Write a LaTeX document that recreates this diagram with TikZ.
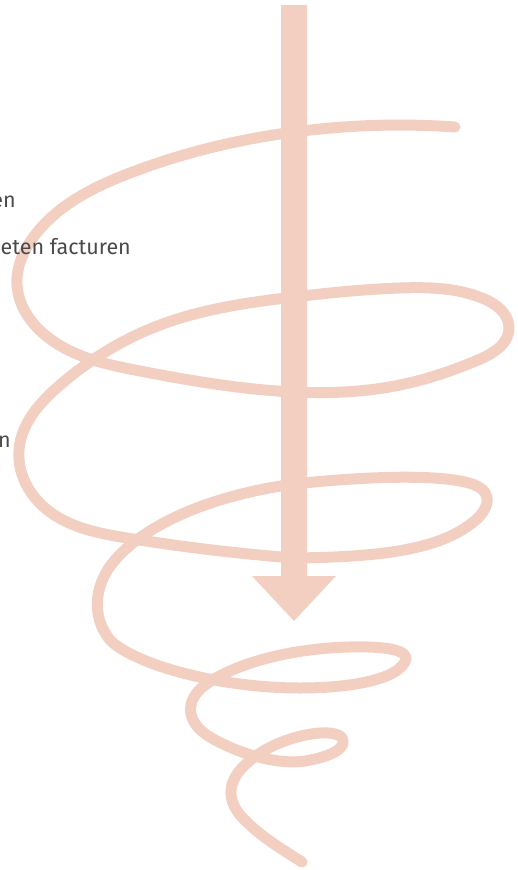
\documentclass[tikz,border=0pt]{standalone}
\usepackage{fontspec}
\setmainfont{Fira Sans}
\usetikzlibrary{hobby}
\definecolor{peach}{HTML}{F3CFC2}
\definecolor{txt}{HTML}{4A4A4A}
\begin{document}
\begin{tikzpicture}[x=1pt,y=-1pt,
  coil/.style={draw=peach,line width=11pt,line cap=round,line join=round},
  lbl/.style={text=txt,font=\fontsize{21.5}{24}\selectfont,anchor=base east,inner sep=0pt}]
\useasboundingbox (0,0) rectangle (517,870);
\draw[coil,use Hobby shortcut] (455,127) .. (294,132) .. (130,173) .. (35,235) .. (17,285) .. (45,335) .. (140,371) .. (294,392) .. (400,385) .. (478,360) .. (509,328) .. (482,298) .. (400,288) .. (294,297) .. (160,325) .. (60,385) .. (19,450) .. (45,508) .. (127,538) .. (294,558);
\draw[coil] (294,558) .. controls (390,557) and (445,548) .. (478,518)
  .. controls (492,503) and (492,488) .. (465,482)
  .. controls (430,474) and (360,477) .. (294,484)
  .. controls (220,494) and (150,520) .. (115,560)
  .. controls (95,583) and (90,615) .. (110,640)
  .. controls (135,665) and (220,688) .. (300,688)
  .. controls (350,688) and (395,680) .. (405,662)
  .. controls (411,651) and (390,646) .. (350,647)
  .. controls (300,648) and (240,660) .. (205,685)
  .. controls (185,700) and (185,722) .. (210,737)
  .. controls (240,755) and (280,765) .. (305,761)
  .. controls (330,757) and (348,748) .. (342,738)
  .. controls (335,728) and (295,733) .. (265,750)
  .. controls (235,768) and (220,790) .. (240,815)
  .. controls (258,835) and (280,848) .. (302,862);
\fill[peach] (281,5) -- (307,5) -- (307,576) -- (336,576) -- (294,621) -- (252,576) -- (281,576) -- cycle;
\node[lbl] (t1) at (16,207) {en};
\node[lbl] (t2) at (131,254) {eten facturen};
\node[lbl] (t3) at (11,447) {n};
\end{tikzpicture}
\end{document}
